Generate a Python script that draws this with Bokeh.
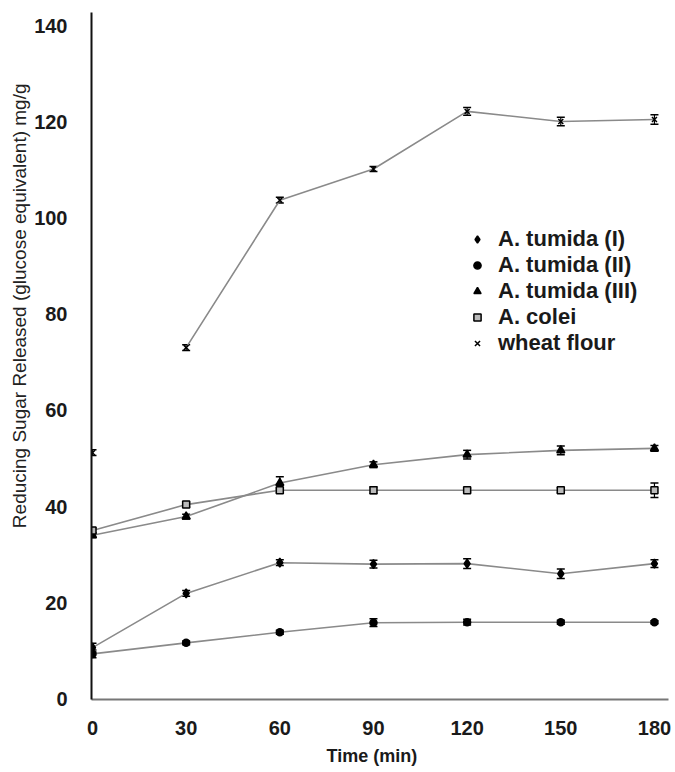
from bokeh.plotting import figure
from bokeh.models import (ColumnDataSource, Range1d, Whisker, TeeHead, Legend,
                          LegendItem, Title, FixedTicker)
from bokeh.embed import file_html
from bokeh.resources import INLINE

# ---- data ----
time_min = [0, 30, 60, 90, 120, 150, 180]

tumida_I = [10.6, 21.9, 28.3, 28.0, 28.1, 26.0, 28.1]
tumida_I_err = [0.9, 0.6, 0.6, 0.8, 1.0, 1.0, 0.8]

tumida_II = [9.3, 11.6, 13.8, 15.8, 15.9, 15.9, 15.9]
tumida_II_err = [0.8, 0.4, 0.4, 0.8, 0.6, 0.4, 0.3]

tumida_III = [34.0, 37.9, 44.9, 48.7, 50.8, 51.7, 52.1]
tumida_III_err = [0.5, 0.5, 1.3, 0.6, 0.9, 0.9, 0.6]

colei = [35.0, 40.4, 43.4, 43.4, 43.4, 43.4, 43.4]
colei_err = [0.5, 0.5, 0.5, 0.7, 0.4, 0.5, 1.5]

wheat = [51.2, 73.1, 103.8, 110.3, 122.3, 120.2, 120.6]
wheat_err = [0.6, 0.6, 0.6, 0.5, 0.8, 0.9, 1.0]

x_ticks = [0, 30, 60, 90, 120, 150, 180]
y_ticks = [0, 20, 40, 60, 80, 100, 120, 140]

labels = ["A. tumida (I)", "A. tumida (II)", "A. tumida (III)", "A. colei", "wheat flour"]
x_title = "Time (min)"
y_title = "Reducing Sugar Released (glucose equivalent) mg/g"

FONT = "Liberation Sans"
LINE_COLOR = "#8a8a8a"
INK = "#1a1a1a"

p = figure(width=675, height=772, output_backend="svg", toolbar_location=None,
           x_range=Range1d(-0.32, 184.5), y_range=Range1d(-0.2, 142.9),
           min_border_left=91, min_border_right=7, min_border_top=12,
           min_border_bottom=73)
p.outline_line_color = None
p.background_fill_color = "white"
p.border_fill_color = "white"
p.xgrid.grid_line_color = None
p.ygrid.grid_line_color = None

for ax in (p.xaxis[0], p.yaxis[0]):
    ax.major_tick_line_color = None
    ax.minor_tick_line_color = None
    ax.major_label_text_font = FONT
    ax.major_label_text_font_style = "bold"
    ax.major_label_text_font_size = "20px"
    ax.major_label_text_color = INK

p.xaxis.major_label_standoff = 15
p.yaxis.major_label_standoff = 18
p.xaxis.ticker = FixedTicker(ticks=x_ticks)
p.yaxis.ticker = FixedTicker(ticks=y_ticks)
p.xaxis.axis_line_color = "#777777"
p.xaxis.axis_line_width = 2
p.yaxis.axis_line_color = "#111111"
p.yaxis.axis_line_width = 2

# axis titles as side titles (so they can sit off-centre like the reference)
p.add_layout(Title(text=x_title, align="left", offset=235, standoff=13,
                   text_font=FONT, text_font_style="bold", text_font_size="18px",
                   text_color=INK), "below")
p.add_layout(Title(text=y_title, align="right", offset=71, standoff=4,
                   text_font=FONT, text_font_style="normal", text_font_size="19px",
                   text_color="#222222"), "left")

series = [
    (tumida_I, tumida_I_err, "diamond", 9, "black", "black", True),
    (tumida_II, tumida_II_err, "circle", 7, "black", "black", True),
    (tumida_III, tumida_III_err, "triangle", 8, "black", "black", True),
    (colei, colei_err, "square", 7, "black", "#bbbbbb", True),
    (wheat, wheat_err, "x", 7, "black", None, False),
]

items = []
for (vals, errs, marker, size, lc, fc, line_from_start), lab in zip(series, labels):
    src = ColumnDataSource(dict(
        x=time_min, y=vals,
        lo=[v - e for v, e in zip(vals, errs)],
        hi=[v + e for v, e in zip(vals, errs)]))
    if line_from_start:
        p.line(time_min, vals, line_color=LINE_COLOR, line_width=1.6)
    else:
        p.line(time_min[1:], vals[1:], line_color=LINE_COLOR, line_width=1.6)
    w = Whisker(source=src, base="x", lower="lo", upper="hi", dimension="height",
                line_color="black", line_width=1.2,
                upper_head=TeeHead(size=8, line_color="black", line_width=1.5),
                lower_head=TeeHead(size=8, line_color="black", line_width=1.5))
    p.add_layout(w)
    r = p.scatter("x", "y", source=src, marker=marker, size=size,
                  line_color=lc, line_width=1.5, fill_color=fc)
    items.append(LegendItem(label=lab, renderers=[r]))

legend = Legend(items=items, location=(377, 343), orientation="vertical",
                glyph_width=18, glyph_height=20, label_height=20, spacing=0,
                label_standoff=12, padding=0, margin=0,
                border_line_color=None, background_fill_alpha=0,
                label_text_font=FONT, label_text_font_style="bold",
                label_text_font_size="22px", label_text_color=INK)
p.add_layout(legend, "center")

open("out.html", "w").write(file_html(p, INLINE))
